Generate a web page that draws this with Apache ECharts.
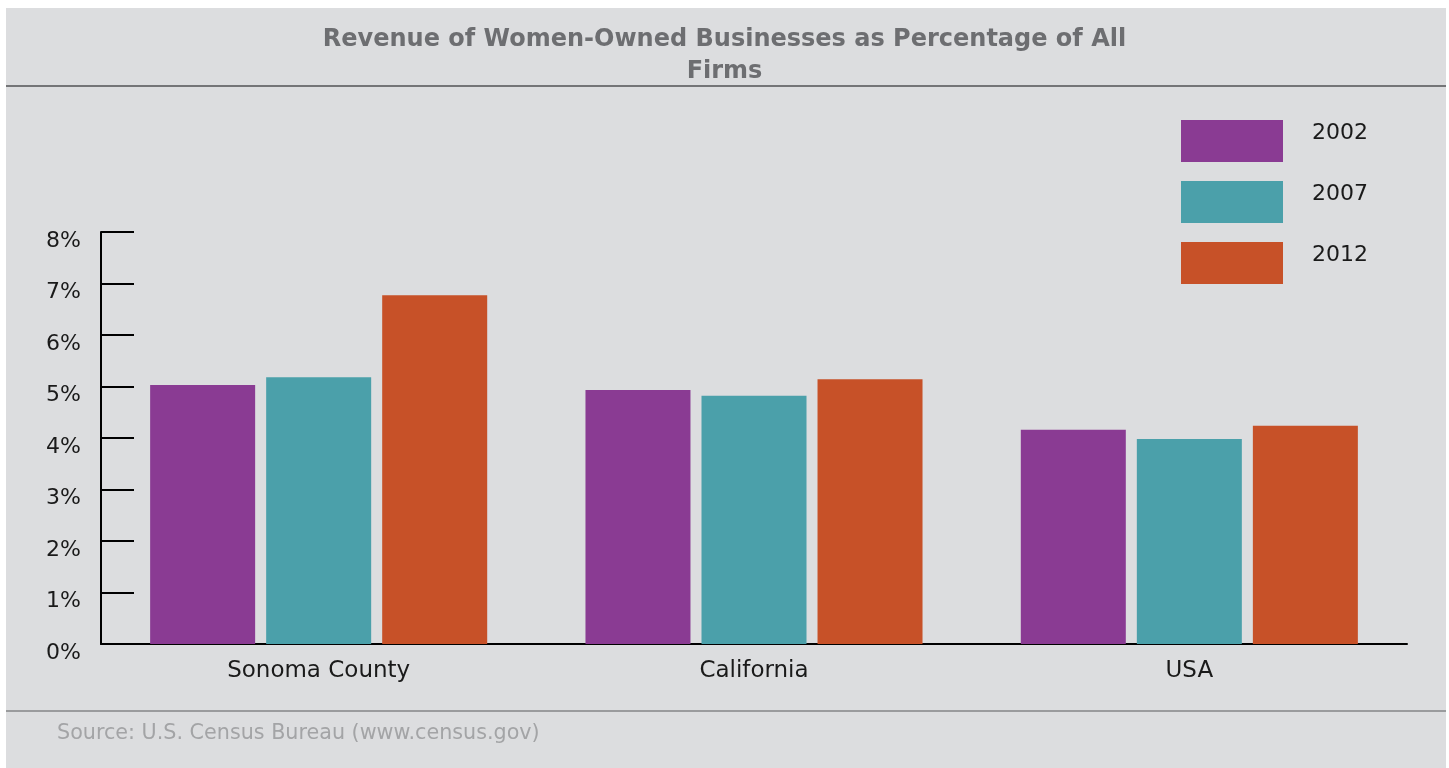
<!DOCTYPE html>
<html>
<head>
<meta charset="utf-8">
<style>
  html, body { margin: 0; padding: 0; background: #ffffff; }
  #chart { width: 1449px; height: 768px; }
</style>
<script src="https://cdn.jsdelivr.net/npm/echarts@6/dist/echarts.min.js"></script>
</head>
<body>
<div id="chart"></div>
<script>
// Regions along the x axis
const regions = ['Sonoma County', 'California', 'USA'];
// Survey years shown as series
const years = ['2002', '2007', '2012'];
// Women-owned business revenue as % of all firms
const values2002 = [5.03, 4.93, 4.16];
const values2007 = [5.18, 4.82, 3.98];
const values2012 = [6.77, 5.14, 4.24];
const seriesColors = ['#8A3B93', '#4BA0AA', '#C75128'];

const titleText = 'Revenue of Women-Owned Businesses as Percentage of All\nFirms';
const sourceText = 'Source: U.S. Census Bureau (www.census.gov)';

const FONT = 'DejaVu Sans';
const chart = echarts.init(document.getElementById('chart'));

const seriesValues = [values2002, values2007, values2012];

chart.setOption({
  backgroundColor: '#ffffff',
  animation: false,
  title: {
    text: titleText,
    left: 'center',
    top: 19,
    textStyle: {
      fontFamily: FONT,
      fontWeight: 'bold',
      fontSize: 24,
      lineHeight: 32,
      color: '#6D6E71'
    }
  },
  graphic: [
    {
      type: 'rect', z: -10, silent: true,
      shape: { x: 6, y: 8, width: 1440, height: 760 },
      style: { fill: '#DCDDDF' }
    },
    {
      type: 'line', z: 0, silent: true,
      shape: { x1: 6, y1: 86, x2: 1446, y2: 86 },
      style: { stroke: '#747577', lineWidth: 2 }
    },
    {
      type: 'line', z: 0, silent: true,
      shape: { x1: 6, y1: 711, x2: 1446, y2: 711 },
      style: { stroke: '#9A9B9D', lineWidth: 2 }
    },
    {
      type: 'text', z: 1, silent: true,
      left: 57, top: 723,
      style: {
        text: sourceText,
        fontFamily: FONT,
        fontSize: 20.7,
        fill: '#A3A4A6'
      }
    }
  ],
  legend: {
    data: years,
    orient: 'vertical',
    left: 1176,
    top: 115,
    itemWidth: 102,
    itemHeight: 42,
    itemGap: 19,
    icon: 'rect',
    selectedMode: false,
    formatter: '{y|{name}}',
    textStyle: {
      rich: {
        y: {
          fontFamily: FONT,
          fontSize: 22,
          color: '#1a1a1a',
          padding: [0, 0, 16, 24]
        }
      }
    }
  },
  grid: {
    left: 101,
    right: 42,
    top: 232,
    bottom: 124,
    containLabel: false
  },
  xAxis: {
    type: 'category',
    data: regions,
    axisLine: { show: true, lineStyle: { color: '#000', width: 2 } },
    axisTick: { show: false },
    axisLabel: {
      fontFamily: FONT,
      fontSize: 23,
      color: '#1a1a1a',
      margin: 16
    }
  },
  yAxis: {
    type: 'value',
    min: 0,
    max: 8,
    interval: 1,
    splitLine: { show: false },
    axisLine: { show: true, lineStyle: { color: '#000', width: 2 } },
    axisTick: { show: true, inside: true, length: 33, lineStyle: { color: '#000', width: 2 } },
    axisLabel: {
      formatter: '{value}%',
      fontFamily: FONT,
      fontSize: 22,
      color: '#1a1a1a',
      margin: 20,
      verticalAlign: 'top',
      lineHeight: 18
    }
  },
  series: years.map((y, i) => ({
    name: y,
    type: 'bar',
    data: seriesValues[i],
    barWidth: 105,
    barGap: '10.5%',
    itemStyle: { color: seriesColors[i] }
  }))
});
</script>
</body>
</html>
